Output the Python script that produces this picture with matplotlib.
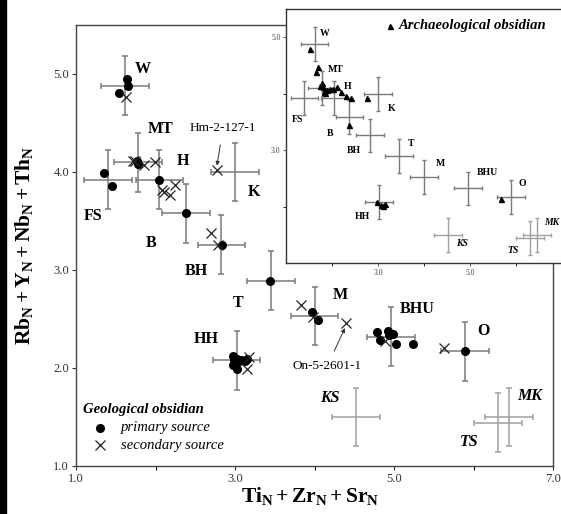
import matplotlib
matplotlib.use("Agg")
import matplotlib.pyplot as plt
from matplotlib.patches import Rectangle

plt.rcParams['font.family'] = ['Liberation Serif', 'DejaVu Serif']
plt.rcParams['mathtext.fontset'] = 'custom'
plt.rcParams['mathtext.rm'] = 'Liberation Serif'
plt.rcParams['mathtext.bf'] = 'Liberation Serif:bold'
plt.rcParams['mathtext.it'] = 'Liberation Serif:italic'

# ---- source reference ranges (centre and spread) ----
src_names = ["W", "MT", "FS", "H", "B", "BH", "T", "HH", "K", "M", "BHU", "O", "KS", "MK", "TS"]
src_x = [1.62, 1.78, 1.40, 2.05, 2.38, 2.83, 3.45, 3.02, 3.00, 4.00, 4.96, 5.89, 4.52, 6.45, 6.31]
src_y = [4.88, 4.10, 3.92, 3.92, 3.58, 3.26, 2.89, 2.08, 4.00, 2.53, 2.32, 2.17, 1.50, 1.50, 1.44]
src_xerr = [0.30, 0.30, 0.30, 0.30, 0.30, 0.30, 0.30, 0.30, 0.30, 0.30, 0.30, 0.30, 0.30, 0.30, 0.30]
src_yerr = [0.30, 0.30, 0.30, 0.30, 0.30, 0.30, 0.30, 0.30, 0.30, 0.30, 0.30, 0.30, 0.30, 0.30, 0.30]
light_src = ["KS", "MK", "TS"]   # sources with no geological samples
italic_src = ["KS", "MK", "TS"]

# ---- geological obsidian, primary source ----
prim_x = [1.64, 1.65, 1.54,
          1.77, 1.78,
          1.35, 1.45,
          2.05, 2.38, 2.84, 3.44,
          2.97, 2.99, 3.00, 3.03, 3.05, 2.98, 3.02, 3.08, 3.12, 3.15,
          3.97, 4.05,
          4.79, 4.92, 4.99, 4.82, 5.03, 5.24, 4.94,
          5.89]
prim_y = [4.95, 4.88, 4.81,
          4.11, 4.08,
          3.99, 3.86,
          3.92, 3.58, 3.26, 2.89,
          2.12, 2.08, 2.05, 2.09, 2.07, 2.03, 1.99, 2.08, 2.07, 2.09,
          2.57, 2.49,
          2.37, 2.38, 2.35, 2.29, 2.25, 2.25, 2.34,
          2.17]

# ---- geological obsidian, secondary source ----
sec_x = [1.63, 1.72, 1.74, 1.86, 1.99, 2.08, 2.11, 2.18, 2.25, 2.70, 2.79,
         2.77, 3.17, 3.15, 3.83, 3.98, 4.40, 4.89, 5.63]
sec_y = [4.77, 4.11, 4.11, 4.07, 4.10, 3.82, 3.80, 3.77, 3.87, 3.38, 3.26,
         4.02, 2.11, 1.99, 2.64, 2.52, 2.46, 2.28, 2.20]

# ---- archaeological obsidian (inset) ----
arch_x = [1.52, 1.70, 1.65, 1.78, 1.80, 1.83, 1.89, 1.96, 2.02, 2.11, 2.20, 2.30, 2.41,
          2.76, 2.37, 1.74, 1.85, 2.98, 3.11, 3.15, 3.07, 5.67]
arch_y = [4.80, 4.47, 4.38, 4.19, 4.12, 4.03, 4.06, 4.08, 4.08, 4.12, 4.03, 3.96, 3.92,
          3.92, 3.44, 4.13, 4.01, 2.08, 2.01, 2.04, 2.03, 2.13]

# label positions (layout)
main_lbl = {"W": (1.84, 5.05), "MT": (2.06, 4.44), "FS": (1.21, 3.55), "H": (2.34, 4.11),
            "B": (1.94, 3.28), "BH": (2.52, 2.99), "T": (3.04, 2.66), "HH": (2.64, 2.30),
            "K": (3.24, 3.80), "M": (4.32, 2.74), "BHU": (5.29, 2.60), "O": (6.12, 2.38),
            "KS": (4.19, 1.69), "MK": (6.71, 1.71), "TS": (5.94, 1.24)}
inset_lbl = {"W": (1.85, 5.07), "MT": (2.07, 4.43), "FS": (1.24, 3.55), "H": (2.35, 4.13),
             "B": (1.96, 3.30), "BH": (2.48, 3.00), "T": (3.72, 3.12), "HH": (2.67, 1.83),
             "K": (3.30, 3.73), "M": (4.35, 2.77), "BHU": (5.37, 2.61), "O": (6.13, 2.40),
             "KS": (4.83, 1.35), "MK": (6.78, 1.71), "TS": (5.93, 1.23)}

fig = plt.figure(figsize=(5.61, 5.14), dpi=100)
fig.patches.append(Rectangle((0, 0), 5.5 / 561, 1, transform=fig.transFigure,
                             color="black", zorder=0))

ax = fig.add_axes([76 / 561, 1 - 466 / 514, 477 / 561, 441 / 514])
ins = fig.add_axes([286 / 561, 1 - 263 / 514, 276 / 561, 254 / 514])


def draw_sources(a, lw, cap):
    for i, n in enumerate(src_names):
        col = "#a0a0a0" if n in light_src else "#7a7a7a"
        a.errorbar(src_x[i], src_y[i], xerr=src_xerr[i], yerr=src_yerr[i], fmt="none",
                   ecolor=col, elinewidth=lw, capsize=cap, capthick=lw, zorder=1)


# main axes
draw_sources(ax, 1.1, 2.5)
ax.plot(prim_x, prim_y, "o", color="black", ms=5.5, zorder=3)
ax.plot(sec_x, sec_y, "x", color="#222222", ms=6.5, mew=0.9, zorder=3)
for n, (lx, ly) in main_lbl.items():
    ax.text(lx, ly, n, fontsize=11.5, fontweight="bold",
            style="italic" if n in italic_src else "normal", ha="center", va="center")

ax.annotate("Hm-2-127-1", xy=(2.77, 4.05), xytext=(2.85, 4.45), fontsize=9.5,
            ha="center", va="center",
            arrowprops=dict(arrowstyle="-|>", color="#333333", lw=0.7, mutation_scale=6,
                            shrinkA=6, shrinkB=1))
ax.annotate("On-5-2601-1", xy=(4.39, 2.42), xytext=(4.16, 2.02), fontsize=9.5,
            ha="center", va="center",
            arrowprops=dict(arrowstyle="-|>", color="#333333", lw=0.7, mutation_scale=6,
                            shrinkA=5, shrinkB=1))

# legend (drawn by hand like the original)
ax.text(1.09, 1.58, "Geological obsidian", fontsize=10.5, fontweight="bold", style="italic",
        va="center")
ax.plot([1.30], [1.39], "o", color="black", ms=5.5)
ax.text(1.57, 1.39, "primary source", fontsize=10.5, style="italic", va="center")
ax.plot([1.30], [1.21], "x", color="#222222", ms=6.5, mew=0.9)
ax.text(1.57, 1.21, "secondary source", fontsize=10.5, style="italic", va="center")

ax.set_xlim(1, 7)
ax.set_ylim(1, 5.5)
ax.set_xticks([1, 3, 5, 7])
ax.set_xticks([2, 4, 6], minor=True)
ax.set_yticks([1, 2, 3, 4, 5])
ax.set_xticklabels(["1.0", "3.0", "5.0", "7.0"])
ax.set_yticklabels(["1.0", "2.0", "3.0", "4.0", "5.0"])
ax.tick_params(labelsize=9, colors="#333333", length=3, width=0.8, pad=2)
ax.tick_params(which="minor", length=3, width=0.8)
for s in ax.spines.values():
    s.set_linewidth(1.0)
    s.set_color("#444444")
ax.set_xlabel(r"$\mathbf{Ti_N + Zr_N + Sr_N}$", fontsize=15.5, va="center")
ax.set_ylabel(r"$\mathbf{Rb_N + Y_N + Nb_N + Th_N}$", fontsize=15.5, va="center")
ax.xaxis.set_label_coords(0.49, -0.068)
ax.yaxis.set_label_coords(-0.108, 0.5)

# inset
ins.set_facecolor("white")
draw_sources(ins, 1.0, 1.6)
ins.plot(arch_x, arch_y, "^", color="black", ms=3.6, zorder=3)
for n, (lx, ly) in inset_lbl.items():
    ins.text(lx, ly, n, fontsize=7, fontweight="bold",
             style="italic" if n in italic_src else "normal", ha="center", va="center")
ins.plot([3.25], [5.20], "^", color="black", ms=3.6)
ins.text(3.45, 5.20, "Archaeological obsidian", fontsize=10.5, fontweight="bold",
         style="italic", va="center")
ins.set_xlim(1, 7)
ins.set_ylim(1, 5.5)
ins.set_xticks([3, 5])
ins.set_xticks([2, 4, 6], minor=True)
ins.set_yticks([3, 5])
ins.set_yticks([2, 4], minor=True)
ins.set_xticklabels(["3.0", "5.0"])
ins.set_yticklabels(["3.0", "5.0"])
ins.tick_params(labelsize=5.5, colors="#444444", length=2, width=0.6, pad=2)
ins.tick_params(which="minor", length=2, width=0.6)
for s in ins.spines.values():
    s.set_linewidth(1.0)
    s.set_color("#333333")

fig.savefig("out.png", dpi=100)
